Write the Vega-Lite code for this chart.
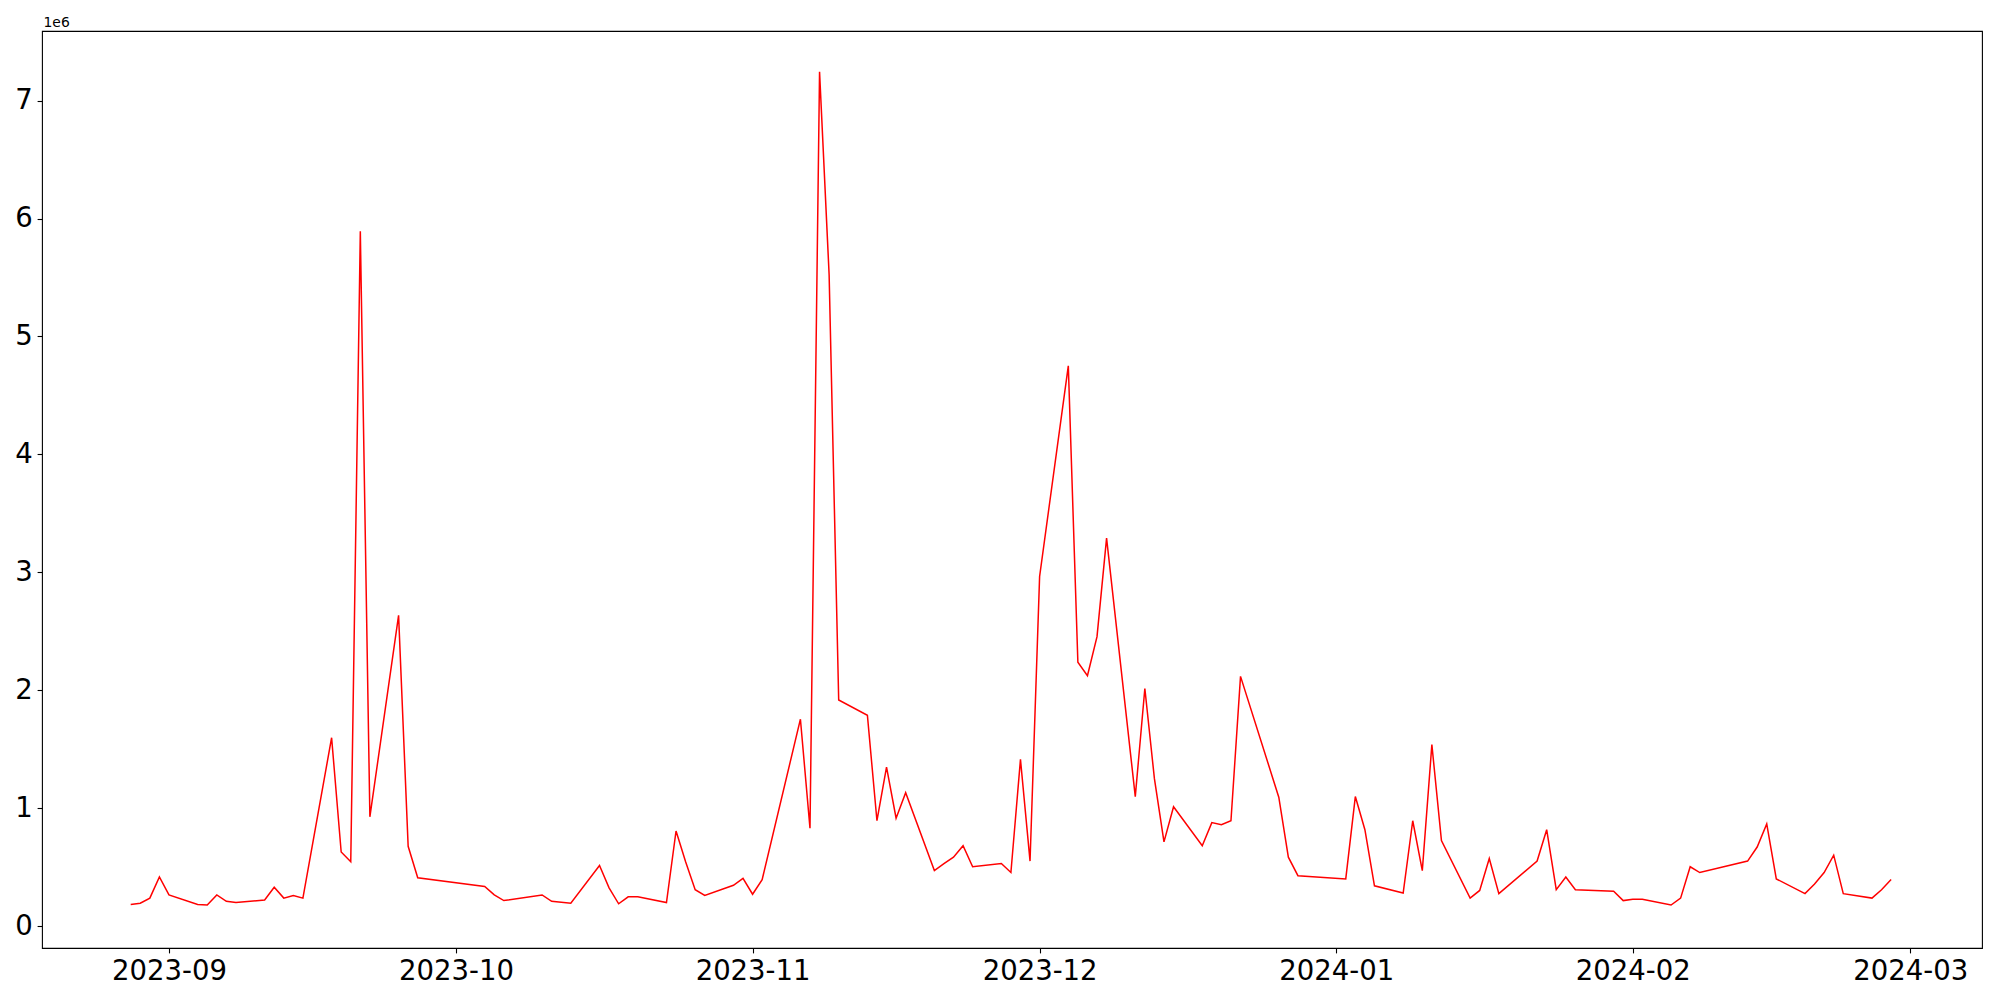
{
  "$schema": "https://vega.github.io/schema/vega-lite/v6.json",
  "width": 1940,
  "height": 917,
  "autosize": {"type": "none"},
  "padding": {"left": 42, "top": 31, "right": 18, "bottom": 52},
  "background": "white",
  "config": {
    "view": {"stroke": "black", "strokeWidth": 1.1},
    "font": "DejaVu Sans",
    "axis": {
      "grid": false,
      "domain": false,
      "ticks": true,
      "tickColor": "black",
      "tickWidth": 1.1,
      "tickSize": 4.9,
      "labelPadding": 4.9,
      "labelFont": "DejaVu Sans",
      "labelFontSize": 27.5,
      "labelColor": "black"
    }
  },
  "data": {
    "values": [
      {"date": "2023-08-28", "volume": 184000},
      {"date": "2023-08-29", "volume": 195000},
      {"date": "2023-08-30", "volume": 238000},
      {"date": "2023-08-31", "volume": 417000},
      {"date": "2023-09-01", "volume": 265000},
      {"date": "2023-09-04", "volume": 184000},
      {"date": "2023-09-05", "volume": 179000},
      {"date": "2023-09-06", "volume": 265000},
      {"date": "2023-09-07", "volume": 211000},
      {"date": "2023-09-08", "volume": 200000},
      {"date": "2023-09-11", "volume": 222000},
      {"date": "2023-09-12", "volume": 330000},
      {"date": "2023-09-13", "volume": 238000},
      {"date": "2023-09-14", "volume": 260000},
      {"date": "2023-09-15", "volume": 238000},
      {"date": "2023-09-18", "volume": 1598000},
      {"date": "2023-09-19", "volume": 629000},
      {"date": "2023-09-20", "volume": 547000},
      {"date": "2023-09-21", "volume": 5891000},
      {"date": "2023-09-22", "volume": 927000},
      {"date": "2023-09-25", "volume": 2635000},
      {"date": "2023-09-26", "volume": 677000},
      {"date": "2023-09-27", "volume": 411000},
      {"date": "2023-10-04", "volume": 336000},
      {"date": "2023-10-05", "volume": 265000},
      {"date": "2023-10-06", "volume": 217000},
      {"date": "2023-10-10", "volume": 265000},
      {"date": "2023-10-11", "volume": 211000},
      {"date": "2023-10-13", "volume": 195000},
      {"date": "2023-10-16", "volume": 515000},
      {"date": "2023-10-17", "volume": 325000},
      {"date": "2023-10-18", "volume": 190000},
      {"date": "2023-10-19", "volume": 249000},
      {"date": "2023-10-20", "volume": 249000},
      {"date": "2023-10-23", "volume": 200000},
      {"date": "2023-10-24", "volume": 807000},
      {"date": "2023-10-25", "volume": 547000},
      {"date": "2023-10-26", "volume": 309000},
      {"date": "2023-10-27", "volume": 260000},
      {"date": "2023-10-30", "volume": 347000},
      {"date": "2023-10-31", "volume": 406000},
      {"date": "2023-11-01", "volume": 271000},
      {"date": "2023-11-02", "volume": 395000},
      {"date": "2023-11-06", "volume": 1755000},
      {"date": "2023-11-07", "volume": 830000},
      {"date": "2023-11-08", "volume": 7244000},
      {"date": "2023-11-09", "volume": 5524000},
      {"date": "2023-11-10", "volume": 1918000},
      {"date": "2023-11-13", "volume": 1788000},
      {"date": "2023-11-14", "volume": 894000},
      {"date": "2023-11-15", "volume": 1349000},
      {"date": "2023-11-16", "volume": 916000},
      {"date": "2023-11-17", "volume": 1132000},
      {"date": "2023-11-20", "volume": 471000},
      {"date": "2023-11-21", "volume": 531000},
      {"date": "2023-11-22", "volume": 585000},
      {"date": "2023-11-23", "volume": 682000},
      {"date": "2023-11-24", "volume": 504000},
      {"date": "2023-11-27", "volume": 531000},
      {"date": "2023-11-28", "volume": 455000},
      {"date": "2023-11-29", "volume": 1414000},
      {"date": "2023-11-30", "volume": 552000},
      {"date": "2023-12-01", "volume": 2965000},
      {"date": "2023-12-04", "volume": 4751000},
      {"date": "2023-12-05", "volume": 2238000},
      {"date": "2023-12-06", "volume": 2124000},
      {"date": "2023-12-07", "volume": 2455000},
      {"date": "2023-12-08", "volume": 3290000},
      {"date": "2023-12-11", "volume": 1099000},
      {"date": "2023-12-12", "volume": 2015000},
      {"date": "2023-12-13", "volume": 1251000},
      {"date": "2023-12-14", "volume": 715000},
      {"date": "2023-12-15", "volume": 1013000},
      {"date": "2023-12-18", "volume": 682000},
      {"date": "2023-12-19", "volume": 878000},
      {"date": "2023-12-20", "volume": 861000},
      {"date": "2023-12-21", "volume": 894000},
      {"date": "2023-12-22", "volume": 2118000},
      {"date": "2023-12-26", "volume": 1094000},
      {"date": "2023-12-27", "volume": 585000},
      {"date": "2023-12-28", "volume": 428000},
      {"date": "2024-01-02", "volume": 401000},
      {"date": "2024-01-03", "volume": 1099000},
      {"date": "2024-01-04", "volume": 818000},
      {"date": "2024-01-05", "volume": 342000},
      {"date": "2024-01-08", "volume": 281000},
      {"date": "2024-01-09", "volume": 894000},
      {"date": "2024-01-10", "volume": 471000},
      {"date": "2024-01-11", "volume": 1539000},
      {"date": "2024-01-12", "volume": 726000},
      {"date": "2024-01-15", "volume": 238000},
      {"date": "2024-01-16", "volume": 303000},
      {"date": "2024-01-17", "volume": 574000},
      {"date": "2024-01-18", "volume": 276000},
      {"date": "2024-01-22", "volume": 552000},
      {"date": "2024-01-23", "volume": 818000},
      {"date": "2024-01-24", "volume": 309000},
      {"date": "2024-01-25", "volume": 417000},
      {"date": "2024-01-26", "volume": 309000},
      {"date": "2024-01-30", "volume": 297000},
      {"date": "2024-01-31", "volume": 217000},
      {"date": "2024-02-01", "volume": 228000},
      {"date": "2024-02-02", "volume": 228000},
      {"date": "2024-02-05", "volume": 179000},
      {"date": "2024-02-06", "volume": 238000},
      {"date": "2024-02-07", "volume": 504000},
      {"date": "2024-02-08", "volume": 455000},
      {"date": "2024-02-13", "volume": 552000},
      {"date": "2024-02-14", "volume": 671000},
      {"date": "2024-02-15", "volume": 867000},
      {"date": "2024-02-16", "volume": 401000},
      {"date": "2024-02-19", "volume": 276000},
      {"date": "2024-02-20", "volume": 358000},
      {"date": "2024-02-21", "volume": 455000},
      {"date": "2024-02-22", "volume": 602000},
      {"date": "2024-02-23", "volume": 276000},
      {"date": "2024-02-26", "volume": 238000},
      {"date": "2024-02-27", "volume": 309000},
      {"date": "2024-02-28", "volume": 395000}
    ]
  },
  "mark": {"type": "line", "color": "#ff0000", "strokeWidth": 1.5, "clip": true},
  "encoding": {
    "x": {
      "field": "date",
      "type": "temporal",
      "scale": {
        "type": "utc",
        "domain": [
          {"year": 2023, "month": 8, "date": 18, "hours": 17, "minutes": 30, "utc": true},
          {"year": 2024, "month": 3, "date": 8, "hours": 12, "utc": true}
        ]
      },
      "axis": {
        "title": null,
        "labelExpr": "utcFormat(datum.value, '%Y-%m')",
        "labelFlush": false,
        "labelOverlap": false,
        "values": [
          {"year": 2023, "month": 9, "date": 1, "utc": true},
          {"year": 2023, "month": 10, "date": 1, "utc": true},
          {"year": 2023, "month": 11, "date": 1, "utc": true},
          {"year": 2023, "month": 12, "date": 1, "utc": true},
          {"year": 2024, "month": 1, "date": 1, "utc": true},
          {"year": 2024, "month": 2, "date": 1, "utc": true},
          {"year": 2024, "month": 3, "date": 1, "utc": true}
        ]
      }
    },
    "y": {
      "field": "volume",
      "type": "quantitative",
      "scale": {"domain": [-185000, 7590000], "nice": false, "zero": false},
      "axis": {
        "values": [0, 1000000, 2000000, 3000000, 4000000, 5000000, 6000000, 7000000],
        "labelExpr": "format(datum.value / 1000000, 'd')",
        "labelFlush": false,
        "labelOverlap": false,
        "title": "1e6",
        "titleAngle": 0,
        "titleX": 1,
        "titleY": -5,
        "titleAlign": "left",
        "titleBaseline": "alphabetic",
        "titleFont": "DejaVu Sans",
        "titleFontSize": 13.9,
        "titleFontWeight": "normal",
        "titleColor": "black"
      }
    }
  }
}
